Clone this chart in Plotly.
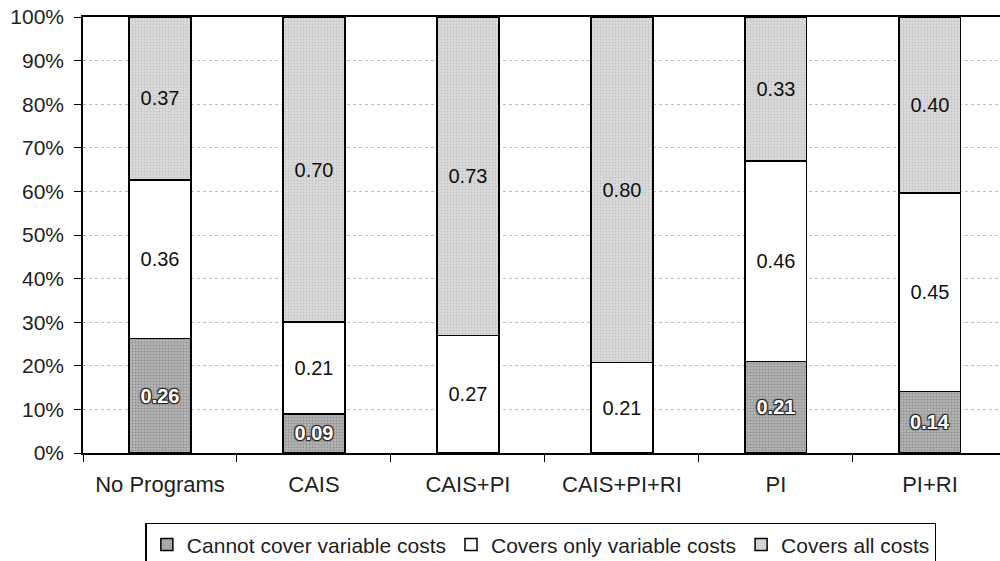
import plotly.graph_objects as go

categories = ["No Programs", "CAIS", "CAIS+PI", "CAIS+PI+RI", "PI", "PI+RI"]
cannot_cover = [0.26, 0.09, 0.00, 0.00, 0.21, 0.14]
variable_only = [0.36, 0.21, 0.27, 0.21, 0.46, 0.45]
all_costs = [0.37, 0.70, 0.73, 0.80, 0.33, 0.40]
y_ticks = [0, 0.1, 0.2, 0.3, 0.4, 0.5, 0.6, 0.7, 0.8, 0.9, 1.0]

FONT = "Liberation Sans, Arial, sans-serif"


def labels(vals):
    return [f"{v:.2f}" if v > 0 else "" for v in vals]


fig = go.Figure()

fig.add_trace(go.Bar(
    name="Cannot cover variable costs",
    x=categories, y=cannot_cover,
    text=labels(cannot_cover),
    marker=dict(color="#a8a8a8", line=dict(color="black", width=1.5),
                pattern=dict(shape=".", fgcolor="#6e6e6e", bgcolor="#b4b4b4",
                             size=3, solidity=0.35)),
    textfont=dict(color="white", size=20, family=FONT, weight="bold",
                  shadow="1px 1px 1px #222, -1px -1px 1px #222, 1px -1px 1px #222, -1px 1px 1px #222"),
))
fig.add_trace(go.Bar(
    name="Covers only variable costs",
    x=categories, y=variable_only,
    text=labels(variable_only),
    marker=dict(color="white", line=dict(color="black", width=1.5)),
    textfont=dict(color="#111", size=20, family=FONT),
))
fig.add_trace(go.Bar(
    name="Covers all costs",
    x=categories, y=all_costs,
    text=labels(all_costs),
    marker=dict(color="#d8d8d8", line=dict(color="black", width=1.5),
                pattern=dict(shape=".", fgcolor="#a9a9a9", bgcolor="#dcdcdc",
                             size=3, solidity=0.3)),
    textfont=dict(color="#111", size=20, family=FONT),
))

fig.update_traces(textposition="inside", insidetextanchor="middle",
                  textangle=0, width=0.4, cliponaxis=False)

fig.update_layout(
    barmode="stack",
    barnorm="fraction",
    width=1000, height=561,
    margin=dict(l=83, r=0, t=17, b=108, autoexpand=False),
    paper_bgcolor="white",
    plot_bgcolor="white",
    font=dict(family=FONT, size=21, color="#222"),
    showlegend=True,
    legend=dict(
        orientation="h",
        traceorder="normal",
        x=0.068, xanchor="left",
        y=-0.16, yanchor="top",
        bordercolor="black", borderwidth=1.5,
        font=dict(size=21, family=FONT, color="#222"),
        itemwidth=30,
        tracegroupgap=0,
    ),
)

fig.update_xaxes(
    type="category",
    range=[-0.5, 5.455],
    showline=True, linecolor="black", linewidth=1.5, mirror=True,
    ticks="outside", tickson="boundaries", ticklen=7, tickcolor="black",
    ticklabelstandoff=11,
    showgrid=False, automargin=False,
    tickfont=dict(size=22, family=FONT, color="#222"),
)
fig.update_yaxes(
    range=[0, 1],
    tickvals=y_ticks,
    tickformat=".0%",
    showline=True, linecolor="black", linewidth=1.5,
    ticks="outside", ticklen=7, tickcolor="black",
    ticklabelstandoff=6,
    showgrid=True, gridcolor="#bdbdbd", gridwidth=1, griddash="dot",
    tickfont=dict(size=21, family=FONT, color="#222"),
    zeroline=False, automargin=False,
)

fig.write_html("out.html")
